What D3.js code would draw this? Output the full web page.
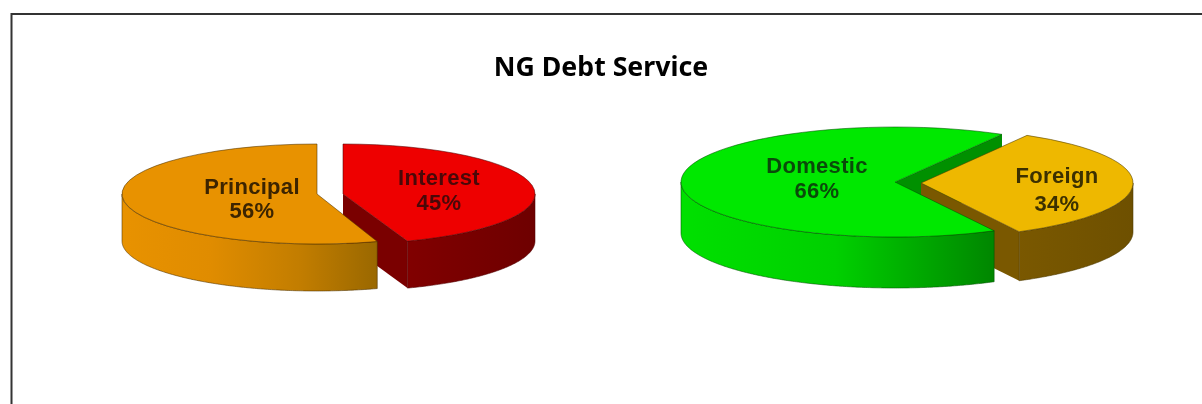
<!DOCTYPE html>
<html>
<head>
<meta charset="utf-8">
<script src="https://cdn.jsdelivr.net/npm/d3@7"></script>
<style>
  html, body { margin: 0; padding: 0; background: #fff; }
  svg { display: block; filter: blur(0.45px); }
</style>
</head>
<body>
<script>
const chartTitle = "NG Debt Service";

// left pie
const serviceNames = ["Interest", "Principal"];
const serviceValues = [45, 56];
// the labels add up to 101, the principal wedge as drawn measures 55 of 100
const principalShares = [45, 55];

// right pie
const sourceNames = ["Foreign", "Domestic"];
const sourceValues = [34, 66];

const width = 1202;
const height = 404;
const toRad = Math.PI / 180;

const svg = d3.select("body").append("svg")
    .attr("width", width)
    .attr("height", height);

svg.append("rect").attr("width", width).attr("height", height).attr("fill", "#fff");

// frame, only top and left survive in the picture
svg.append("path")
    .attr("d", "M11.5,404V14H1202")
    .attr("fill", "none")
    .attr("stroke", "#333")
    .attr("stroke-width", 2);

svg.append("text")
    .attr("x", 601)
    .attr("y", 76)
    .attr("text-anchor", "middle")
    .style("font-family", "Noto Sans")
    .style("font-weight", 700)
    .style("font-size", "26.7px")
    .attr("fill", "#000")
    .text(chartTitle);

const defs = svg.append("defs");

function wallGradient(id, x0, x1, stops) {
    const g = defs.append("linearGradient")
        .attr("id", id)
        .attr("gradientUnits", "userSpaceOnUse")
        .attr("x1", x0).attr("x2", x1)
        .attr("y1", 0).attr("y2", 0);
    stops.forEach(s => g.append("stop").attr("offset", s[0]).attr("stop-color", s[1]));
    return `url(#${id})`;
}

// one pie slice: top face from d3.arc squashed into an ellipse, walls extruded below it
function drawTop(slice, o) {
    const arc = d3.arc().innerRadius(0).outerRadius(o.rx);
    svg.append("path")
        .attr("transform", `translate(${o.cx},${o.cy}) scale(1,${o.ry / o.rx})`)
        .attr("d", arc(slice))
        .attr("fill", o.top)
        .attr("stroke", o.edge)
        .attr("stroke-width", 1)
        .attr("stroke-opacity", 0.55)
        .attr("vector-effect", "non-scaling-stroke");
}

function drawOuterWall(slice, o) {
    // only the part of the rim facing the viewer
    const from = Math.max(slice.startAngle, Math.PI / 2);
    const to = Math.min(slice.endAngle, Math.PI * 1.5);
    const angles = d3.range(from, to, 0.01).concat([to]);
    const area = d3.area()
        .x(a => o.cx + o.rx * Math.sin(a))
        .y0(a => o.cy - o.ry * Math.cos(a))
        .y1(a => o.cy - o.ry * Math.cos(a) + o.depth);
    svg.append("path")
        .attr("d", area(angles))
        .attr("fill", o.wall)
        .attr("stroke", o.edge)
        .attr("stroke-width", 1)
        .attr("stroke-opacity", 0.55);
}

function drawCutWall(angle, o) {
    const px = o.cx + o.rx * Math.sin(angle);
    const py = o.cy - o.ry * Math.cos(angle);
    const area = d3.area().x(d => d[0]).y0(d => d[1]).y1(d => d[1] + o.depth);
    svg.append("path")
        .attr("d", area([[o.cx, o.cy], [px, py]]))
        .attr("fill", o.cut);
}

function drawLabel(name, value, x, y, gap, color) {
    const t = svg.append("text")
        .attr("text-anchor", "middle")
        .style("font-family", "Liberation Sans")
        .style("font-weight", 700)
        .style("font-size", "22px")
        .style("letter-spacing", "0.3px")
        .attr("fill", color);
    t.append("tspan").attr("x", x).attr("y", y).text(name);
    t.append("tspan").attr("x", x).attr("y", y + gap).text(value + "%");
}

// left pie: interest runs clockwise from 12 o'clock, principal takes the rest
const servicePie = d3.pie().sort(null).value(d => d);
const interestSlice = servicePie(serviceValues)[0];
const principalSlice = servicePie(principalShares)[1];

const interest = {
    cx: 343, cy: 194, rx: 192, ry: 50, depth: 47,
    top: "#ee0000", edge: "#500000", cut: "#7a0000",
    wall: wallGradient("wallInterest", 343, 535, [[0, "#8a0000"], [1, "#6e0000"]])
};
const principal = {
    cx: 317, cy: 194, rx: 195, ry: 50, depth: 47,
    top: "#e89200", edge: "#4a3000", cut: "#a87000",
    wall: wallGradient("wallPrincipal", 122, 377, [[0, "#e89200"], [0.35, "#e08c00"], [0.7, "#c27d00"], [1, "#9a6800"]])
};

drawCutWall(interestSlice.endAngle, interest);
drawOuterWall(interestSlice, interest);
drawTop(interestSlice, interest);
drawOuterWall(principalSlice, principal);
drawTop(principalSlice, principal);

drawLabel(serviceNames[0], serviceValues[0], 439, 185, 25, "#4a0808");
drawLabel(serviceNames[1], serviceValues[1], 252, 194, 24, "#3c2400");

// right pie: rotated so the foreign wedge points right
const sourcePie = d3.pie().sort(null).value(d => d)
    .startAngle(30 * toRad)
    .endAngle(390 * toRad);
const source = sourcePie(sourceValues);

const foreign = {
    cx: 921, cy: 183, rx: 212, ry: 55, depth: 49,
    top: "#eeb800", edge: "#4a3800", cut: "#7a5800",
    wall: wallGradient("wallForeign", 1017, 1133, [[0, "#7a5800"], [1, "#6e5000"]])
};
const domestic = {
    cx: 895, cy: 182, rx: 214, ry: 55, depth: 51,
    top: "#00e800", edge: "#005000", cut: "#009000",
    wall: wallGradient("wallDomestic", 681, 990, [[0, "#00e000"], [0.5, "#00d000"], [1, "#008800"]])
};

drawCutWall(source[1].endAngle, domestic);
drawCutWall(source[0].endAngle, foreign);
drawOuterWall(source[0], foreign);
drawTop(source[0], foreign);
drawOuterWall(source[1], domestic);
drawTop(source[1], domestic);

drawLabel(sourceNames[0], sourceValues[0], 1057, 183, 28, "#3c3000");
drawLabel(sourceNames[1], sourceValues[1], 817, 173, 25, "#0a4a0a");
</script>
</body>
</html>
